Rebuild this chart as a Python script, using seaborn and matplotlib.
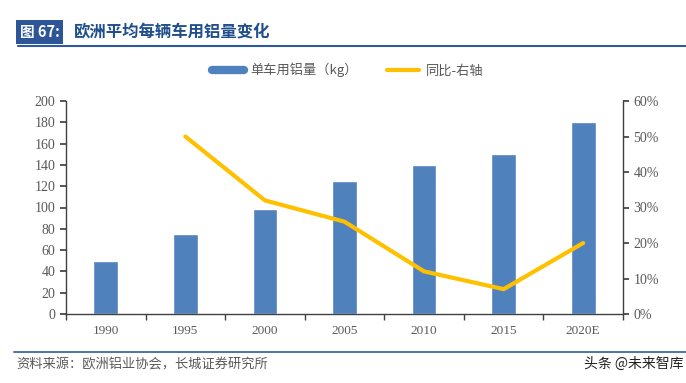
import numpy as np
import pandas as pd
import matplotlib
matplotlib.use('Agg')
import matplotlib.pyplot as plt
from matplotlib.lines import Line2D
from matplotlib.ticker import MultipleLocator, PercentFormatter, FixedLocator
import seaborn as sns

# data
years = ['1990', '1995', '2000', '2005', '2010', '2015', '2020E']
al_per_car = [50, 75, 99, 125, 140, 150, 180]
yoy = [np.nan, 50, 32, 26, 12, 7, 20]

bar_color = '#4F81BD'
line_color = '#FFC000'
tick_color = '#595959'

sns.set_theme(style='white')
plt.rcParams['font.family'] = ['Noto Sans CJK SC', 'DejaVu Sans']
plt.rcParams['axes.unicode_minus'] = False

df = pd.DataFrame({'year': years, 'kg': al_per_car, 'yoy': yoy})

fig = plt.figure(figsize=(6.86, 3.83), dpi=100)
ax = fig.add_axes([66 / 686, 1 - 314 / 383, (623 - 66) / 686, (314 - 101) / 383])

sns.barplot(data=df, x='year', y='kg', color=bar_color, width=0.31, saturation=1, ax=ax)
ax.set_ylim(0, 200)
ax.set_xlim(-0.5, len(years) - 0.5)
ax.yaxis.set_major_locator(MultipleLocator(20))
ax.set_xlabel('')
ax.set_ylabel('')

ax2 = ax.twinx()
sns.lineplot(x=np.arange(len(years)), y=df['yoy'], color=line_color, linewidth=3, ax=ax2)
ax2.set_ylim(0, 60)
ax2.yaxis.set_major_locator(MultipleLocator(10))
ax2.yaxis.set_major_formatter(PercentFormatter(decimals=0))
ax2.set_ylabel('')

for a in (ax, ax2):
    for s in a.spines.values():
        s.set_visible(False)
    a.grid(False)
ax.spines['left'].set_visible(True)
ax.spines['bottom'].set_visible(True)
ax2.spines['right'].set_visible(True)
for sp in (ax.spines['left'], ax.spines['bottom'], ax2.spines['right']):
    sp.set_color('#404040')
    sp.set_linewidth(1)

ax.xaxis.set_minor_locator(FixedLocator(np.arange(-0.5, len(years), 1)))
ax.tick_params(axis='x', which='major', length=0, pad=8, labelsize=9.5, labelcolor=tick_color)
ax.tick_params(axis='x', which='minor', length=4, direction='out', color='#404040', bottom=True)
ax.tick_params(axis='y', length=4, direction='out', color='#404040', labelsize=10, labelcolor=tick_color, left=True)
ax2.tick_params(axis='y', length=4, direction='out', color='#404040', labelsize=10, labelcolor=tick_color, right=True)
for lab in ax.get_xticklabels() + ax.get_yticklabels() + ax2.get_yticklabels():
    lab.set_fontfamily(['Liberation Serif', 'DejaVu Serif'])

# legend
handles = [Line2D([0], [0], color=bar_color, linewidth=6),
           Line2D([0], [0], color=line_color, linewidth=3)]
fig.legend(handles, ['单车用铝量（kg）', '同比-右轴'], loc='center', bbox_to_anchor=(0.507, 0.817),
           ncol=2, frameon=False, fontsize=9.5, labelcolor=tick_color, handlelength=2.4,
           handletextpad=0.5, columnspacing=2.2)

# header
fig.text(20 / 686, 1 - 32 / 383, '图 67:', color='white', fontsize=10.5, fontweight='bold',
         va='center', ha='left',
         bbox=dict(facecolor='#2E5597', edgecolor='none', boxstyle='square,pad=0.25'))
fig.text(74 / 686, 1 - 32 / 383, '欧洲平均每辆车用铝量变化', color='#1F4E8C', fontsize=11.8,
         fontweight='bold', va='center', ha='left')
fig.add_artist(Line2D([18 / 686, 1], [1 - 46 / 383] * 2, color='#2E5C9A', linewidth=1.5))

# footer
fig.add_artist(Line2D([14 / 686, 1], [1 - 352 / 383] * 2, color='#2E5C9A', linewidth=1.2))
fig.text(16 / 686, 1 - 365 / 383, '资料来源：欧洲铝业协会，长城证券研究所', color='#595959',
         fontsize=9.5, va='center', ha='left')
fig.text(683 / 686, 1 - 364 / 383, '头条 @未来智库', color='#222222', fontsize=10,
         va='center', ha='right')

fig.savefig('out.png', dpi=100)
